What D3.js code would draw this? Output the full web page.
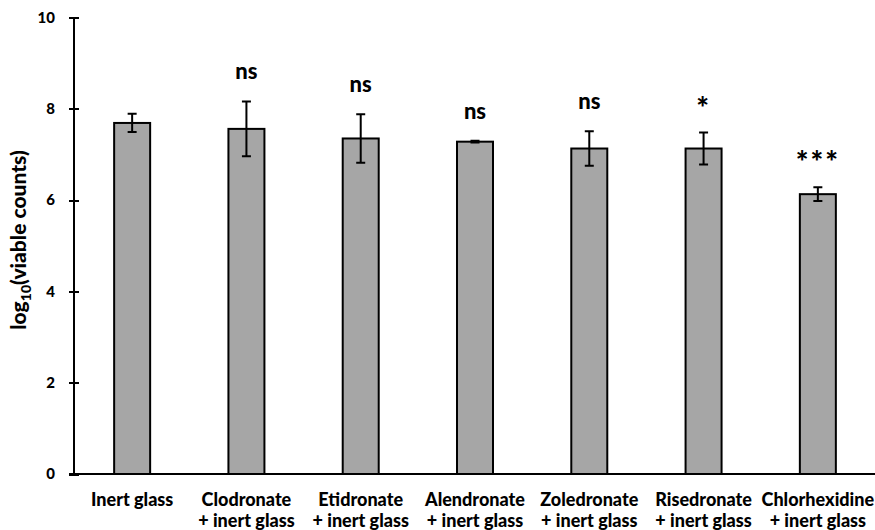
<!DOCTYPE html>
<html>
<head>
<meta charset="utf-8">
<script src="https://cdn.jsdelivr.net/npm/d3@7"></script>
<style>
  body { margin: 0; background: #fff; }
  svg { font-family: Lato, "Open Sans", sans-serif; font-weight: bold; }
  .axis path, .axis line { stroke: #000; stroke-width: 2; shape-rendering: crispEdges; }
  .axis text { font-size: 15px; fill: #000; font-family: Lato, sans-serif; font-weight: 900; }
  .bar { fill: #a6a6a6; stroke: #000; stroke-width: 2; }
  .err { stroke: #000; stroke-width: 2; fill: none; }
</style>
</head>
<body>
<svg id="chart" width="875" height="530"></svg>
<script>
// data
const line1 = ['Inert glass', 'Clodronate', 'Etidronate', 'Alendronate', 'Zoledronate', 'Risedronate', 'Chlorhexidine'];
const line2 = ['', '+ inert glass', '+ inert glass', '+ inert glass', '+ inert glass', '+ inert glass', '+ inert glass'];
const means = [7.69, 7.56, 7.35, 7.28, 7.13, 7.13, 6.13];
const errs = [0.2, 0.6, 0.53, 0.02, 0.38, 0.35, 0.15];
const marks = ['', 'ns', 'ns', 'ns', 'ns', '*', '***'];
const yTicks = [0, 2, 4, 6, 8, 10];

const svg = d3.select('#chart');
const margin = { top: 17.5, left: 74, bottom: 56, right: 0 };
const W = 875, H = 530;

const x = d3.scaleBand()
  .domain(d3.range(means.length))
  .range([margin.left + 1, W])
  .paddingInner(0.685)
  .paddingOuter(0.3425);

const y = d3.scaleLinear()
  .domain([0, 10])
  .range([474, margin.top]);

// y axis
const yAxis = svg.append('g')
  .attr('class', 'axis y')
  .attr('transform', 'translate(' + margin.left + ',0)')
  .call(d3.axisLeft(y).tickValues(yTicks).tickSize(5).tickSizeOuter(0).tickPadding(14));
yAxis.selectAll('.tick line').attr('x1', 5);
yAxis.select('.domain').attr('d', 'M0,' + y(10) + 'V' + y(0));

// bars
const bw = x.bandwidth();
svg.append('g').selectAll('rect')
  .data(means)
  .enter().append('rect')
  .attr('class', 'bar')
  .attr('x', (d, i) => x(i))
  .attr('y', d => y(d))
  .attr('width', bw)
  .attr('height', d => y(0) - y(d));

// error bars
const eg = svg.append('g').selectAll('g')
  .data(means)
  .enter().append('g')
  .attr('transform', (d, i) => 'translate(' + (x(i) + bw / 2) + ',0)');
const cap = 4.5;
eg.append('path')
  .attr('class', 'err')
  .attr('d', (d, i) => {
    const t = y(d + errs[i]), b = y(d - errs[i]);
    return 'M0,' + t + 'V' + b + 'M' + (-cap) + ',' + t + 'H' + cap + 'M' + (-cap) + ',' + b + 'H' + cap;
  });

// significance marks
eg.append('text')
  .attr('y', (d, i) => y(d + errs[i]) - (marks[i] === 'ns' ? 22 : 14))
  .attr('text-anchor', 'middle')
  .attr('font-size', (d, i) => marks[i] === 'ns' ? '22px' : '30px')
  .attr('font-weight', 900)
  .attr('letter-spacing', (d, i) => marks[i] === 'ns' ? 0 : 2)
  .attr('fill', '#000')
  .text((d, i) => marks[i]);

// x axis line
svg.append('line')
  .attr('class', 'err')
  .attr('x1', margin.left - 5).attr('x2', W)
  .attr('y1', y(0)).attr('y2', y(0));

// category labels
const lab = svg.append('g').selectAll('text')
  .data(line1)
  .enter().append('text')
  .attr('x', (d, i) => x(i) + bw / 2)
  .attr('y', 506)
  .attr('text-anchor', 'middle')
  .attr('font-size', '18px')
  .attr('font-weight', 900)
  .attr('fill', '#000');
lab.append('tspan').attr('x', (d, i) => x(i) + bw / 2).text(d => d);
lab.append('tspan').attr('x', (d, i) => x(i) + bw / 2).attr('dy', 21).text((d, i) => line2[i]);

// y label
const yl = svg.append('text')
  .attr('transform', 'translate(26,240) rotate(-90)')
  .attr('text-anchor', 'middle')
  .attr('font-size', '21px')
  .attr('font-weight', 900)
  .attr('fill', '#000');
yl.append('tspan').text('log');
yl.append('tspan').attr('font-size', '14px').attr('dy', 5).text('10');
yl.append('tspan').attr('dy', -5).text('(viable counts)');
</script>
</body>
</html>
